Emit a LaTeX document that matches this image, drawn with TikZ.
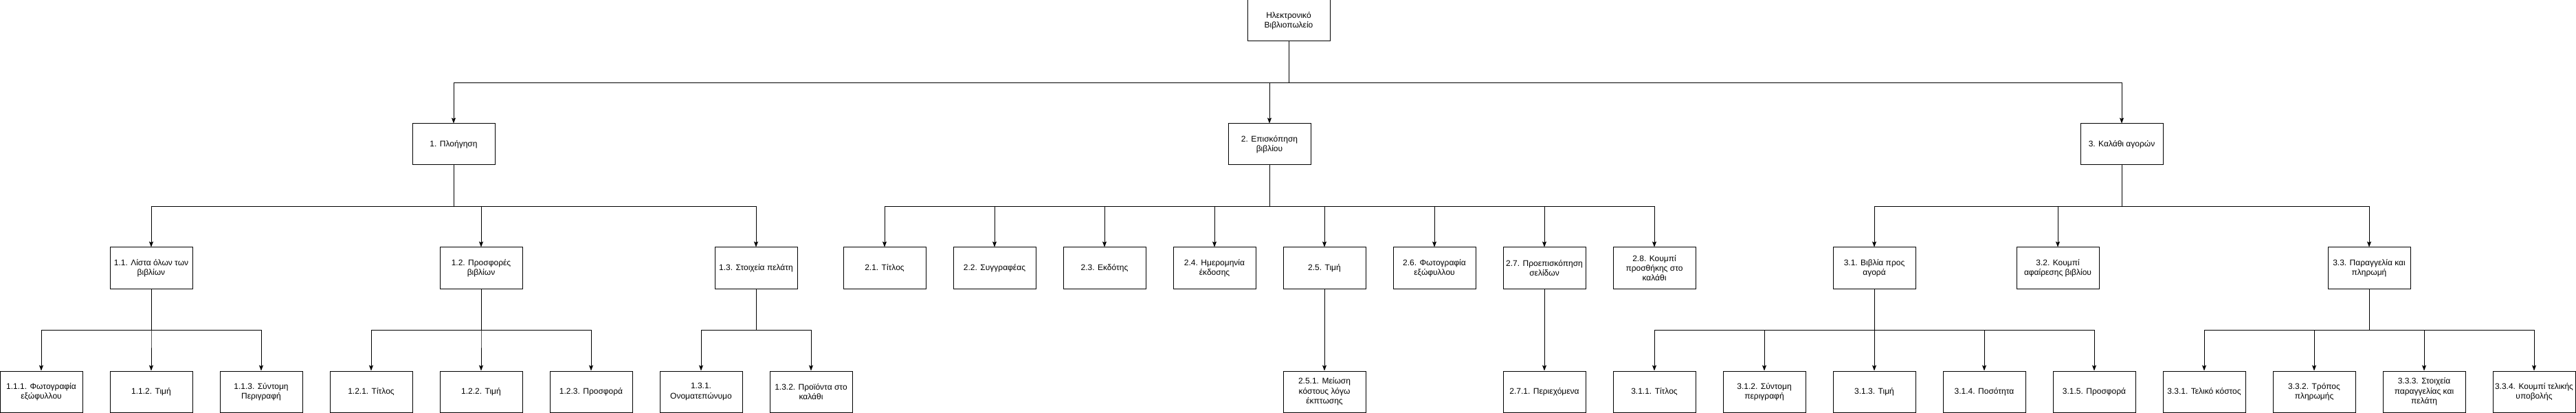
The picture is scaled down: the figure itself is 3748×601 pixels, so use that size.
\documentclass[tikz,border=0pt]{standalone}
\usepackage{fontspec}
\setmainfont{Liberation Sans}
\usetikzlibrary{arrows.meta}

\tikzset{
  box/.style={draw, line width=1pt, minimum width=120pt, minimum height=60pt,
    inner sep=1pt, align=center, font=\fontsize{12}{14.4}\selectfont},
  arr/.style={line width=1pt, -{Stealth[length=8pt,width=6pt,inset=1.5pt]}}
}

\begin{document}
\begin{tikzpicture}[x=1pt,y=-1pt]
\useasboundingbox (0,0) rectangle (3748,601);

% root
\node[box] (root) at (1875,30) {Ηλεκτρονικό\\Βιβλιοπωλείο};

% level 1
\node[box] (n1) at (660,210) {1. Πλοήγηση};
\node[box] (n2) at (1847,210) {2. Επισκόπηση\\βιβλίου};
\node[box] (n3) at (3087,210) {3. Καλάθι αγορών};

% level 2
\node[box] (n11) at (220,390) {1.1. Λίστα όλων των\\βιβλίων};
\node[box] (n12) at (700,390) {1.2. Προσφορές\\βιβλίων};
\node[box] (n13) at (1100,390) {1.3. Στοιχεία πελάτη};
\node[box] (n21) at (1287,390) {2.1. Τίτλος};
\node[box] (n22) at (1447,390) {2.2. Συγγραφέας};
\node[box] (n23) at (1607,390) {2.3. Εκδότης};
\node[box] (n24) at (1767,390) {2.4. Ημερομηνία\\έκδοσης};
\node[box] (n25) at (1927,390) {2.5. Τιμή};
\node[box] (n26) at (2087,390) {2.6. Φωτογραφία\\εξώφυλλου};
\node[box] (n27) at (2247,390) {2.7. Προεπισκόπηση\\σελίδων};
\node[box] (n28) at (2407,390) {2.8. Κουμπί\\προσθήκης στο\\καλάθι};
\node[box] (n31) at (2727,390) {3.1. Βιβλία προς\\αγορά};
\node[box] (n32) at (2994,390) {3.2. Κουμπί\\αφαίρεσης βιβλίου};
\node[box] (n33) at (3447,390) {3.3. Παραγγελία και\\πληρωμή};

% level 3
\node[box] (n111) at (60,570) {1.1.1. Φωτογραφία\\εξώφυλλου};
\node[box] (n112) at (220,570) {1.1.2. Τιμή};
\node[box] (n113) at (380,570) {1.1.3. Σύντομη\\Περιγραφή};
\node[box] (n121) at (540,570) {1.2.1. Τίτλος};
\node[box] (n122) at (700,570) {1.2.2. Τιμή};
\node[box] (n123) at (860,570) {1.2.3. Προσφορά};
\node[box] (n131) at (1020,570) {1.3.1.\\Ονοματεπώνυμο};
\node[box] (n132) at (1180,570) {1.3.2. Προϊόντα στο\\καλάθι};
\node[box] (n251) at (1927,570) {2.5.1. Μείωση\\κόστους λόγω\\έκπτωσης};
\node[box] (n271) at (2247,570) {2.7.1. Περιεχόμενα};
\node[box] (n311) at (2407,570) {3.1.1. Τίτλος};
\node[box] (n312) at (2567,570) {3.1.2. Σύντομη\\περιγραφή};
\node[box] (n313) at (2727,570) {3.1.3. Τιμή};
\node[box] (n314) at (2887,570) {3.1.4. Ποσότητα};
\node[box] (n315) at (3047,570) {3.1.5. Προσφορά};
\node[box] (n331) at (3207,570) {3.3.1. Τελικό κόστος};
\node[box] (n332) at (3367,570) {3.3.2. Τρόπος\\πληρωμής};
\node[box] (n333) at (3527,570) {3.3.3. Στοιχεία\\παραγγελίας και\\πελάτη};
\node[box] (n334) at (3687,570) {3.3.4. Κουμπί τελικής\\υποβολής};

% connectors
\foreach \c in {n1,n2,n3}
  \draw[arr] (root.south) -- ++(0,60) -| (\c.north);
\foreach \c in {n11,n12,n13}
  \draw[arr] (n1.south) -- ++(0,60) -| (\c.north);
\foreach \c in {n21,n22,n23,n24,n25,n26,n27,n28}
  \draw[arr] (n2.south) -- ++(0,60) -| (\c.north);
\foreach \c in {n31,n32,n33}
  \draw[arr] (n3.south) -- ++(0,60) -| (\c.north);
\foreach \c in {n111,n112,n113}
  \draw[arr] (n11.south) -- ++(0,60) -| (\c.north);
\foreach \c in {n121,n122,n123}
  \draw[arr] (n12.south) -- ++(0,60) -| (\c.north);
\foreach \c in {n131,n132}
  \draw[arr] (n13.south) -- ++(0,60) -| (\c.north);
\draw[arr] (n25.south) -- (n251.north);
\draw[arr] (n27.south) -- (n271.north);
\foreach \c in {n311,n312,n313,n314,n315}
  \draw[arr] (n31.south) -- ++(0,60) -| (\c.north);
\foreach \c in {n331,n332,n333,n334}
  \draw[arr] (n33.south) -- ++(0,60) -| (\c.north);
\end{tikzpicture}
\end{document}
